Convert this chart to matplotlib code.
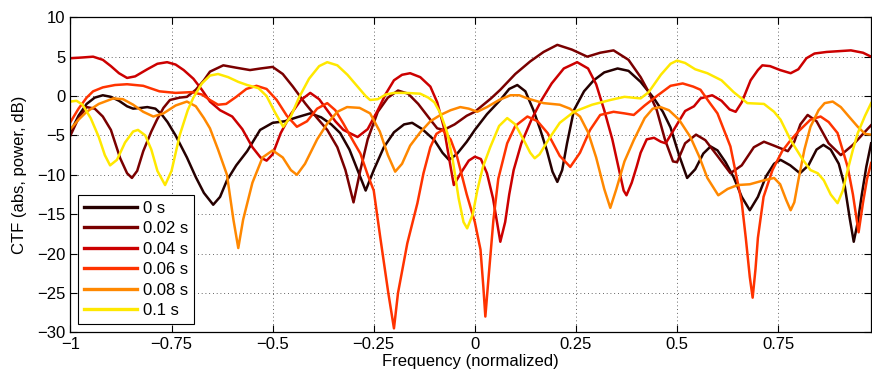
import matplotlib
matplotlib.use('Agg')
import matplotlib.pyplot as plt

#######################################################################
# Data
#######################################################################
labels = ['0 s', '0.02 s', '0.04 s', '0.06 s', '0.08 s', '0.1 s']
colors = ['#260000', '#7a0000', '#cc0000', '#ff3300', '#ff8800', '#ffe800']

f_0s = [-1.0, -0.98, -0.96, -0.94, -0.92, -0.9, -0.88, -0.86, -0.845, -0.825, -0.81, -0.79,
        -0.775, -0.76, -0.74, -0.712, -0.69, -0.67, -0.647, -0.63, -0.613, -0.59, -0.563,
        -0.531, -0.5, -0.47, -0.44, -0.407, -0.38, -0.355, -0.333, -0.31, -0.29, -0.27,
        -0.25, -0.225, -0.2, -0.175, -0.155, -0.13, -0.1, -0.08, -0.064, -0.045, -0.02,
        0.0, 0.03, 0.063, 0.085, 0.105, 0.125, 0.145, 0.162, 0.178, 0.192, 0.204, 0.216,
        0.228, 0.245, 0.27, 0.294, 0.32, 0.353, 0.38, 0.41, 0.443, 0.465, 0.484, 0.505,
        0.525, 0.545, 0.565, 0.583, 0.6, 0.62, 0.64, 0.66, 0.68, 0.7, 0.72, 0.74, 0.756,
        0.78, 0.804, 0.825, 0.845, 0.862, 0.88, 0.9, 0.915, 0.927, 0.937, 0.947, 0.957,
        0.968, 0.98]
ctf_0s = [-4.6, -2.5, -1.0, -0.2, 0.1, -0.1, -0.6, -1.3, -1.6, -1.5, -1.4, -1.6,
          -2.3, -3.3, -5.0, -7.8, -10.3, -12.3, -13.8, -12.8, -10.7, -8.8, -7.0,
          -4.3, -3.4, -3.2, -2.7, -2.2, -2.7, -3.6, -4.7, -6.8, -9.4, -12.0,
          -9.4, -6.5, -4.6, -3.6, -3.4, -4.2, -5.6, -7.2, -8.1, -7.4, -5.8,
          -4.3, -2.3, -0.5, 0.9, 1.4, 0.6, -1.8, -4.3, -6.9, -9.6, -10.9, -9.4,
          -6.0, -1.8, 0.6, 2.0, 3.0, 3.5, 3.2, 1.8, -0.3, -2.0, -4.0, -7.5,
          -10.4, -9.3, -7.3, -6.4, -6.9, -8.4, -10.3, -12.8, -14.5, -12.8, -10.2, -8.6, -8.1,
          -8.8, -9.8, -8.8, -6.8, -6.2, -6.8, -8.6, -11.5, -15.5, -18.5, -16.0, -12.5,
          -9.0, -6.0]

f_002 = [-1.0, -0.98, -0.96, -0.94, -0.92, -0.9, -0.877, -0.86, -0.848, -0.835, -0.82, -0.8,
         -0.786, -0.77, -0.754, -0.73, -0.712, -0.69, -0.67, -0.655, -0.622, -0.59, -0.556,
         -0.53, -0.5, -0.475, -0.45, -0.42, -0.39, -0.365, -0.34, -0.32, -0.3, -0.283,
         -0.265, -0.24, -0.215, -0.19, -0.165, -0.14, -0.11, -0.093, -0.077, -0.05, -0.02,
         0.0, 0.014, 0.04, 0.063, 0.1, 0.137, 0.17, 0.204, 0.24, 0.278, 0.31, 0.343, 0.38,
         0.41, 0.43, 0.45, 0.47, 0.49, 0.5, 0.52, 0.547, 0.57, 0.6, 0.632, 0.66, 0.69,
         0.715, 0.74, 0.774, 0.79, 0.805, 0.823, 0.845, 0.875, 0.905, 0.935, 0.96, 0.98]
ctf_002 = [-5.0, -2.8, -1.4, -1.6, -2.6, -4.3, -7.9, -9.8, -10.4, -9.5, -7.0, -4.5,
           -3.0, -1.5, -0.5, -0.2, -0.1, 0.8, 2.0, 3.1, 3.9, 3.6, 3.3,
           3.5, 3.7, 2.8, 1.2, -0.9, -2.8, -4.3, -6.5, -9.4, -13.5, -9.4,
           -5.5, -2.0, -0.2, 0.7, 0.3, -1.0, -3.0, -4.1, -4.3, -3.6, -2.5,
           -2.0, -1.4, -0.3, 0.8, 2.8, 4.4, 5.6, 6.5, 5.9, 5.0, 5.5, 5.8, 4.6,
           2.4, 0.5, -1.8, -5.5, -8.3, -8.4, -6.0, -4.9, -5.6, -7.6, -9.8, -8.8, -6.5,
           -5.8, -6.3, -7.0, -5.8, -3.6, -2.4, -3.2, -6.0, -7.5, -6.2, -4.8, -3.7]

f_004 = [-1.0, -0.97, -0.944, -0.92, -0.9, -0.88, -0.86, -0.84, -0.81, -0.785, -0.761, -0.74,
         -0.72, -0.696, -0.675, -0.655, -0.63, -0.6, -0.575, -0.55, -0.53, -0.515, -0.5,
         -0.48, -0.455, -0.43, -0.407, -0.385, -0.365, -0.345, -0.325, -0.29, -0.265, -0.24,
         -0.22, -0.2, -0.18, -0.16, -0.135, -0.11, -0.093, -0.077, -0.065, -0.052, -0.035,
         -0.015, 0.0, 0.015, 0.03, 0.045, 0.063, 0.075, 0.085, 0.096, 0.115, 0.14, 0.165,
         0.19, 0.22, 0.253, 0.28, 0.3, 0.32, 0.34, 0.355, 0.368, 0.375, 0.388, 0.4, 0.41,
         0.425, 0.443, 0.46, 0.472, 0.5, 0.52, 0.542, 0.558, 0.587, 0.61, 0.63, 0.645, 0.66,
         0.682, 0.7, 0.711, 0.73, 0.755, 0.781, 0.8, 0.82, 0.84, 0.87, 0.9, 0.93, 0.96, 0.98]
ctf_004 = [4.8, 4.9, 5.0, 4.6, 3.8, 2.9, 2.3, 2.5, 3.4, 4.1, 4.3, 4.0,
           3.3, 2.2, 0.8, -0.7, -1.8, -2.6, -4.2, -6.5, -7.8, -8.2, -7.4,
           -4.7, -2.3, -0.5, 0.4, -0.4, -1.8, -3.2, -4.3, -5.2, -4.2, -1.8,
           0.3, 2.0, 2.7, 2.9, 2.4, 1.2, -0.8, -3.9, -7.5, -11.3, -9.8,
           -8.2, -7.7, -8.0, -9.8, -13.0, -18.5, -16.0, -12.5, -9.4, -6.0, -3.0, -0.5,
           1.6, 3.5, 4.3, 3.5, 1.5, -1.8, -5.5, -9.0, -12.0, -12.6, -11.0, -9.0, -7.2,
           -5.5, -5.3, -5.8, -6.0, -3.6, -1.9, -1.3, -0.3, 0.1, -0.6, -1.7, -2.0, -0.8,
           2.0, 3.3, 3.9, 3.8, 3.3, 2.9, 3.4, 4.8, 5.4, 5.6, 5.7, 5.8, 5.5, 5.0]

f_006 = [-1.0, -0.98, -0.96, -0.944, -0.92, -0.89, -0.86, -0.82, -0.78, -0.74, -0.7, -0.675,
         -0.655, -0.635, -0.615, -0.59, -0.565, -0.54, -0.515, -0.49, -0.465, -0.44, -0.415,
         -0.39, -0.365, -0.345, -0.325, -0.3, -0.283, -0.265, -0.25, -0.234, -0.214, -0.2,
         -0.19, -0.167, -0.142, -0.127, -0.11, -0.095, -0.08, -0.06, -0.044, -0.02, 0.0,
         0.014, 0.021, 0.026, 0.034, 0.046, 0.058, 0.08, 0.1, 0.13, 0.155, 0.18, 0.21,
         0.236, 0.26, 0.285, 0.31, 0.343, 0.37, 0.393, 0.42, 0.45, 0.484, 0.514, 0.54,
         0.558, 0.58, 0.6, 0.632, 0.649, 0.66, 0.67, 0.68, 0.687, 0.694, 0.7, 0.714, 0.736,
         0.76, 0.781, 0.8, 0.83, 0.855, 0.875, 0.897, 0.922, 0.935, 0.949, 0.96, 0.97, 0.98]
ctf_006 = [-3.3, -1.6, -0.2, 0.6, 1.1, 1.4, 1.5, 1.3, 0.6, 0.4, 0.5, 0.2,
           -0.5, -1.1, -1.0, -0.1, 0.9, 1.3, 0.9, -0.5, -2.5, -3.9, -3.2,
           -1.6, -0.9, -1.8, -3.5, -5.8, -7.3, -10.0, -12.0, -17.9, -25.0, -29.5,
           -25.0, -18.7, -13.6, -9.8, -6.5, -4.8, -4.3, -5.5, -7.7, -12.5, -16.0,
           -19.5, -24.2, -28.0, -23.0, -15.7, -10.5, -6.0, -3.8, -2.6, -3.2, -4.7, -7.6,
           -9.0, -7.2, -4.3, -2.4, -2.0, -2.2, -2.4, -1.2, 0.0, 1.3, 1.6, 1.2,
           0.8, -0.8, -2.2, -6.4, -10.7, -13.5, -18.0, -23.0, -25.6, -22.0, -18.0, -12.8, -9.4,
           -7.0, -5.6, -4.5, -3.0, -2.6, -3.3, -4.7, -9.0, -12.5, -17.3, -13.5, -10.5, -8.5]

f_008 = [-1.0, -0.98, -0.96, -0.93, -0.894, -0.87, -0.845, -0.82, -0.795, -0.77, -0.74, -0.712,
         -0.69, -0.67, -0.655, -0.635, -0.613, -0.597, -0.585, -0.573, -0.55, -0.525, -0.5,
         -0.475, -0.455, -0.44, -0.42, -0.39, -0.365, -0.34, -0.316, -0.285, -0.259, -0.235,
         -0.215, -0.197, -0.18, -0.16, -0.135, -0.11, -0.085, -0.06, -0.036, -0.015, 0.006,
         0.03, 0.06, 0.088, 0.11, 0.13, 0.17, 0.21, 0.235, 0.26, 0.28, 0.3, 0.32, 0.335,
         0.35, 0.37, 0.393, 0.42, 0.44, 0.459, 0.48, 0.505, 0.533, 0.555, 0.575, 0.602,
         0.625, 0.65, 0.68, 0.715, 0.74, 0.755, 0.77, 0.781, 0.79, 0.8, 0.815, 0.83, 0.85,
         0.865, 0.885, 0.905, 0.925, 0.947, 0.965, 0.98]
ctf_008 = [-4.2, -3.0, -2.0, -1.0, -0.3, -0.4, -1.1, -2.0, -2.6, -2.2, -1.2, -0.7,
           -1.3, -2.8, -4.1, -6.8, -10.0, -15.7, -19.3, -15.7, -11.0, -7.8, -6.9,
           -7.8, -9.4, -10.0, -8.6, -5.5, -3.5, -2.0, -1.4, -1.5, -2.2, -4.5,
           -7.5, -9.6, -8.6, -6.3, -4.6, -3.2, -2.4, -1.8, -1.4, -1.6, -2.0,
           -1.4, -0.5, 0.1, 0.1, -0.3, -0.9, -1.1, -1.6, -2.6, -4.6, -7.8, -11.8, -14.2,
           -11.8, -8.3, -5.6, -2.8, -1.6, -1.4, -1.8, -3.0, -5.2, -7.7, -10.4, -12.6,
           -11.8, -11.3, -11.2, -10.7, -10.4, -11.2, -13.2, -14.5, -13.5, -10.7, -6.8, -3.9, -1.8,
           -0.9, -0.7, -1.4, -2.6, -3.9, -4.8, -4.9]

f_01 = [-1.0, -0.985, -0.97, -0.95, -0.93, -0.915, -0.902, -0.885, -0.865, -0.845, -0.833, -0.815,
        -0.8, -0.785, -0.766, -0.75, -0.73, -0.71, -0.696, -0.675, -0.655, -0.635, -0.61,
        -0.585, -0.563, -0.535, -0.515, -0.495, -0.474, -0.455, -0.435, -0.41, -0.385, -0.365,
        -0.34, -0.315, -0.29, -0.27, -0.259, -0.24, -0.22, -0.2, -0.17, -0.135, -0.115, -0.1,
        -0.085, -0.068, -0.055, -0.04, -0.028, -0.019, -0.005, 0.006, 0.02, 0.038, 0.06,
        0.08, 0.1, 0.12, 0.137, 0.148, 0.16, 0.185, 0.21, 0.245, 0.29, 0.335, 0.37, 0.41,
        0.43, 0.46, 0.484, 0.5, 0.52, 0.545, 0.575, 0.61, 0.64, 0.674, 0.715, 0.74, 0.756,
        0.781, 0.81, 0.83, 0.848, 0.863, 0.88, 0.897, 0.91, 0.922, 0.935, 0.947, 0.965, 0.98]
ctf_01 = [-0.7, -0.6, -1.1, -2.8, -5.2, -7.5, -8.8, -8.1, -5.9, -4.5, -4.3, -5.0,
          -6.8, -9.5, -11.3, -9.5, -5.0, -1.8, -0.2, 1.6, 2.6, 2.8, 2.4,
          1.8, 1.4, 1.0, 0.0, -2.0, -3.9, -2.6, -0.2, 2.2, 3.8, 4.3,
          3.9, 2.7, 1.2, 0.0, -0.5, -0.4, 0.2, 0.4, 0.4, 0.3, -0.2, -0.8,
          -2.2, -4.7, -8.0, -13.0, -16.0, -16.8, -15.0, -12.0, -9.0, -6.5, -3.8,
          -2.8, -3.6, -5.5, -7.2, -7.9, -7.4, -5.3, -3.4, -2.0, -1.1, -0.5, -0.1, -0.3,
          0.5, 2.7, 4.1, 4.5, 4.2, 3.4, 2.9, 2.0, 0.5, -0.9, -1.0, -2.0, -3.0,
          -5.6, -8.0, -9.4, -9.8, -10.7, -12.5, -13.6, -12.0, -9.4, -6.8, -4.7, -2.5, -0.9]

freqs = [f_0s, f_002, f_004, f_006, f_008, f_01]
ctfs = [ctf_0s, ctf_002, ctf_004, ctf_006, ctf_008, ctf_01]

x_ticks = [-1, -0.75, -0.5, -0.25, 0, 0.25, 0.5, 0.75]
x_ticklabels = ['\u22121', '\u22120.75', '\u22120.5', '\u22120.25', '0', '0.25', '0.5', '0.75']
y_ticks = [-30, -25, -20, -15, -10, -5, 0, 5, 10]

#######################################################################
# Plot
#######################################################################
plt.rcParams['font.family'] = ['Liberation Sans', 'DejaVu Sans']
plt.rcParams['font.size'] = 12

fig = plt.figure(figsize=(8.72, 3.81), dpi=100)
ax = fig.add_axes([0.0808, 0.1278, 0.9182, 0.8268])

for f, v, c, lab in zip(freqs, ctfs, colors, labels):
    ax.plot(f, v, color=c, lw=1.8, label=lab, solid_joinstyle='round')

ax.set_xlim(-1, 0.98)
ax.set_ylim(-30, 10)
ax.set_xticks(x_ticks)
ax.set_xticklabels(x_ticklabels)
ax.set_yticks(y_ticks)
ax.set_yticklabels([str(t).replace('-', '\u2212') for t in y_ticks])
ax.tick_params(direction='in', top=True, right=True, length=5, width=0.8, labelsize=12)
ax.grid(True, color='0.2', linestyle=(0, (1, 3.5)), linewidth=0.6)
for s in ax.spines.values():
    s.set_linewidth(0.9)

ax.set_xlabel('Frequency (normalized)', fontsize=12, labelpad=1)
ax.set_ylabel('CTF (abs, power, dB)', fontsize=12, labelpad=7)

leg = ax.legend(loc='lower left', bbox_to_anchor=(0.0094, 0.026), borderaxespad=0,
                fancybox=False, framealpha=1, edgecolor='black', fontsize=12,
                handlelength=3.2, handletextpad=0.35, labelspacing=0.33, borderpad=0.35)
leg.get_frame().set_linewidth(0.8)
for line in leg.get_lines():
    line.set_linewidth(2.4)

fig.savefig('out.png', dpi=100)
